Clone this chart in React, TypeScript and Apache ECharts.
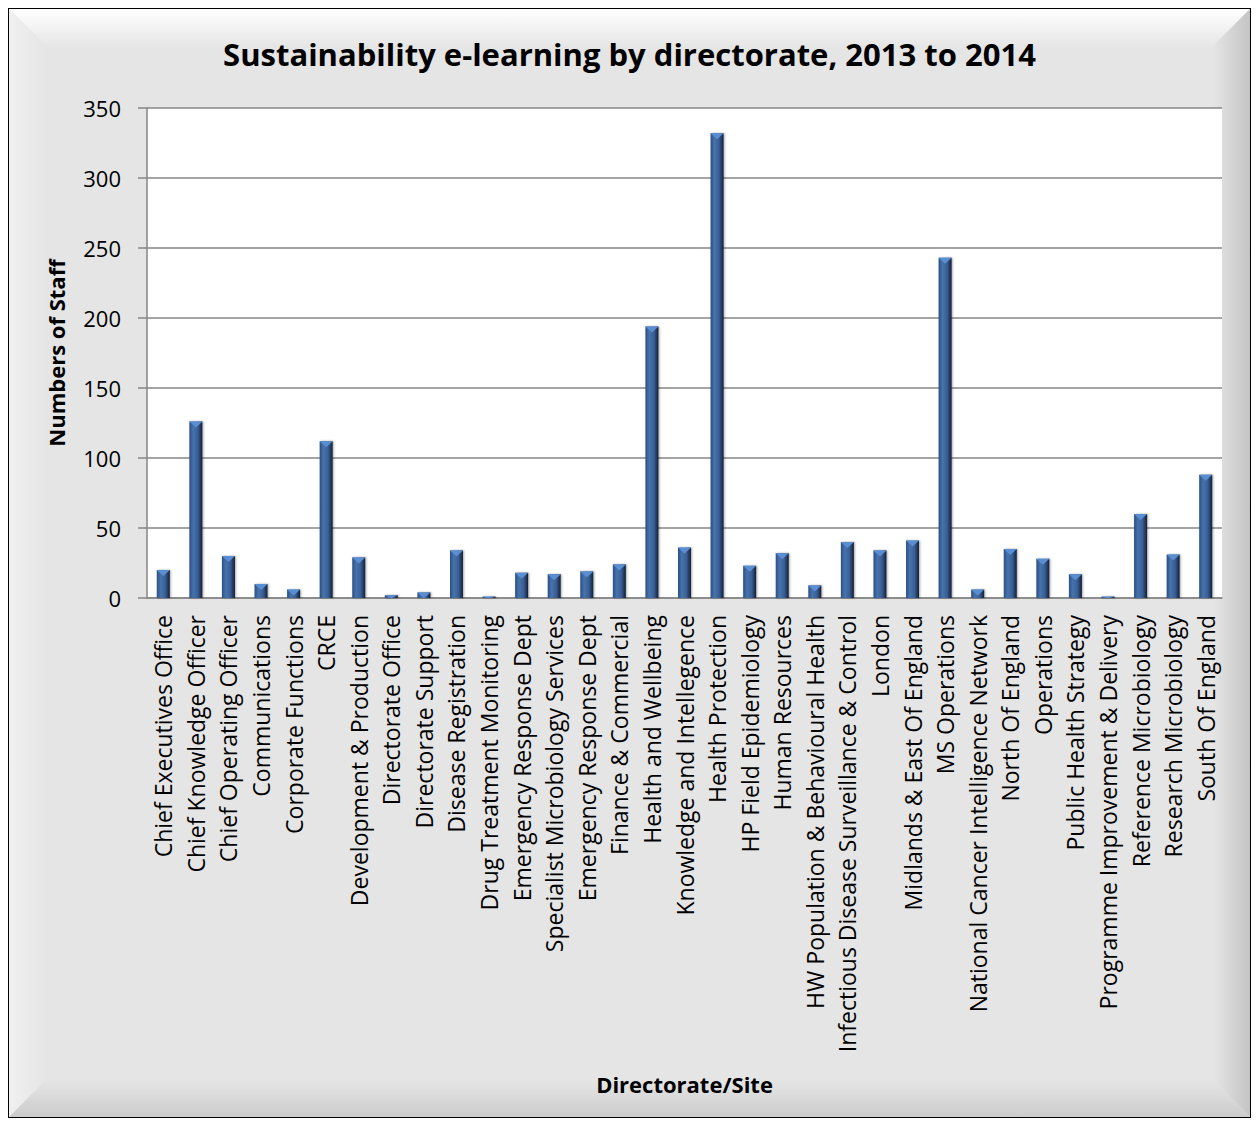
import React, { useEffect, useRef } from "react";
import * as echarts from "echarts";

const categories: string[] = [
  "Chief Executives Office",
  "Chief Knowledge Officer",
  "Chief Operating Officer",
  "Communications",
  "Corporate Functions",
  "CRCE",
  "Development & Production",
  "Directorate Office",
  "Directorate Support",
  "Disease Registration",
  "Drug Treatment Monitoring",
  "Emergency Response Dept",
  "Specialist Microbiology Services",
  "Emergency Response Dept",
  "Finance & Commercial",
  "Health and Wellbeing",
  "Knowledge and Intellegence",
  "Health Protection",
  "HP Field Epidemiology",
  "Human Resources",
  "HW Population & Behavioural Health",
  "Infectious Disease Surveillance & Control",
  "London",
  "Midlands & East Of England",
  "MS Operations",
  "National Cancer Intelligence Network",
  "North Of England",
  "Operations",
  "Public Health Strategy",
  "Programme Improvement & Delivery",
  "Reference Microbiology",
  "Research Microbiology",
  "South Of England",
];

const staffCounts: number[] = [
  20, 126, 30, 10, 6, 112, 29, 2, 4, 34, 1, 18, 17, 19, 24, 194, 36, 332, 23, 32,
  9, 40, 34, 41, 243, 6, 35, 28, 17, 1, 60, 31, 88,
];

const yTicks = { min: 0, max: 350, interval: 50 };

const TITLE = "Sustainability e-learning by directorate, 2013 to 2014";
const Y_NAME = "Numbers of Staff";
const X_NAME = "Directorate/Site";

const W = 1243;
const H = 1110;
const FONT = "'Open Sans', 'Noto Sans', sans-serif";

export default function App() {
  const ref = useRef<HTMLDivElement>(null);

  useEffect(() => {
    if (!ref.current) return;
    const chart = echarts.init(ref.current, undefined, { renderer: "svg" });
    const B = 38;
    const lg = (x: number, y: number, x2: number, y2: number, c0: string, c1: string) =>
      new echarts.graphic.LinearGradient(x, y, x2, y2, [
        { offset: 0, color: c0 },
        { offset: 1, color: c1 },
      ]);
    const option: any = {
      animation: false,
      backgroundColor: "transparent",
      textStyle: { fontFamily: FONT },
      title: {
        text: TITLE,
        left: "center",
        top: 25,
        textStyle: { fontFamily: FONT, fontSize: 31, fontWeight: "bold", color: "#000" },
      },
      graphic: {
        elements: [
          { type: "rect", z: -20, shape: { x: 0, y: 0, width: W, height: H }, style: { fill: "#e5e5e5", stroke: "#000", lineWidth: 2 } },
          { type: "polygon", z: -19, shape: { points: [[1, 1], [W - 1, 1], [W - B, B], [B, B]] }, style: { fill: lg(0, 0, 0, 1, "#ffffff", "#e6e6e6") } },
          { type: "polygon", z: -19, shape: { points: [[1, 1], [B, B], [B, H - B], [1, H - 1]] }, style: { fill: lg(0, 0, 1, 0, "#f0f0f0", "#e5e5e5") } },
          { type: "polygon", z: -19, shape: { points: [[W - 1, 1], [W - 1, H - 1], [W - B, H - B], [W - B, B]] }, style: { fill: lg(0, 0, 1, 0, "#e5e5e5", "#c4c4c4") } },
          { type: "polygon", z: -19, shape: { points: [[1, H - 1], [W - 1, H - 1], [W - B, H - B], [B, H - B]] }, style: { fill: lg(0, 0, 0, 1, "#e5e5e5", "#cccccc") } },
          { type: "rect", z: -18, shape: { x: 0, y: 0, width: W, height: H }, style: { fill: "none", stroke: "#000", lineWidth: 2 } },
        ],
      },
      grid: {
        left: 139,
        right: 29,
        top: 100,
        bottom: 520,
        show: true,
        backgroundColor: "#ffffff",
        borderWidth: 0,
      },
      xAxis: {
        type: "category",
        data: categories,
        name: X_NAME,
        nameLocation: "middle",
        nameGap: 475,
        nameTextStyle: { fontFamily: FONT, fontSize: 22, fontWeight: "bold", color: "#000" },
        axisLine: { show: true, lineStyle: { color: "#868686", width: 1.5 } },
        axisTick: { show: false },
        axisLabel: {
          interval: 0,
          rotate: 90,
          margin: 17,
          fontFamily: FONT,
          fontSize: 23,
          color: "#000",
        },
      },
      yAxis: {
        type: "value",
        min: yTicks.min,
        max: yTicks.max,
        interval: yTicks.interval,
        name: Y_NAME,
        nameLocation: "middle",
        nameGap: 80,
        nameRotate: 90,
        nameTextStyle: { fontFamily: FONT, fontSize: 22, fontWeight: "bold", color: "#000" },
        axisLine: { show: true, lineStyle: { color: "#868686", width: 1.5 } },
        axisTick: { show: true, length: 9, lineStyle: { color: "#868686", width: 1.5 } },
        axisLabel: { margin: 26, fontFamily: FONT, fontSize: 22, color: "#000" },
        splitLine: { show: true, lineStyle: { color: "#868686", width: 1.5 } },
      },
      series: [
        {
          type: "bar",
          data: staffCounts,
          barWidth: 13,
          itemStyle: {
            color: new echarts.graphic.LinearGradient(0, 0, 1, 0, [
              { offset: 0, color: "#2c4f83" },
              { offset: 0.3, color: "#4673ad" },
              { offset: 0.65, color: "#3a5f96" },
              { offset: 1, color: "#131f36" },
            ]),
            shadowColor: "rgba(0,0,0,0.35)",
            shadowBlur: 2,
            shadowOffsetX: 1,
            shadowOffsetY: 0,
          },
        },
        {
          type: "pictorialBar",
          data: staffCounts,
          symbol: "path://M0,0 L2,0 L1,1 Z",
          symbolPosition: "end",
          symbolSize: (v: number) => [13, Math.min(6, v * 1.4)],
          barGap: "-100%",
          itemStyle: { color: "#5a8ed2" },
          z: 3,
        },
      ],
    };
    chart.setOption(option);
    return () => chart.dispose();
  }, []);

  return <div ref={ref} style={{ width: W, height: H }} />;
}
